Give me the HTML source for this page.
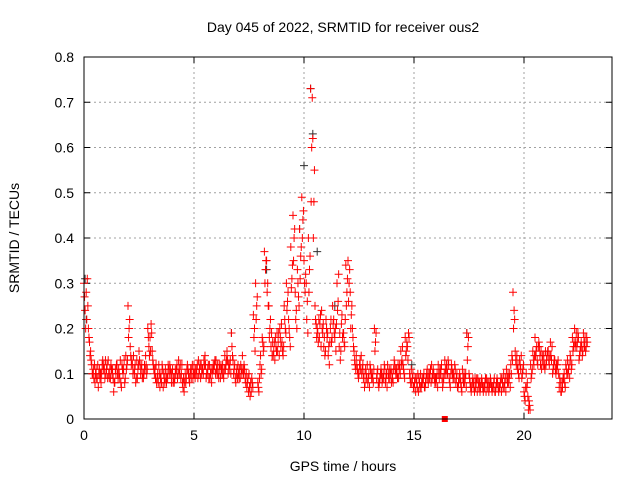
<!DOCTYPE html>
<html><head><meta charset="utf-8"><style>
body{margin:0;background:#fff}
svg{display:block;font-family:"Liberation Sans",sans-serif}
</style></head><body>
<svg id="chart" width="640" height="480" xmlns="http://www.w3.org/2000/svg">
<rect width="640" height="480" fill="#fff"/>
<text x="343" y="32" font-size="14" text-anchor="middle">Day 045 of 2022, SRMTID for receiver ous2</text>
<text x="343" y="471" font-size="14" text-anchor="middle">GPS time / hours</text>
<text transform="translate(19,238) rotate(-90)" font-size="14" text-anchor="middle">SRMTID / TECUs</text>
<g id="grid"></g><g id="ticks"></g><g id="marks"></g>
<rect x="84" y="57" width="528" height="362" fill="none" stroke="#000" stroke-width="1"/>
</svg>
<script>
const xTicks=[0,5,10,15,20];
const yTicks=[0,0.1,0.2,0.3,0.4,0.5,0.6,0.7,0.8];
const yTickLabels=["0","0.1","0.2","0.3","0.4","0.5","0.6","0.7","0.8"];
const timeStep=0.1;
const seriesA=[.30,.28,.20,.15,.10,.08,.09,.11,.10,.12,
.10,.13,.09,.11,.08,.12,.10,.07,.11,.14,
.25,.16,.12,.10,.13,.15,.11,.09,.14,.20,
.18,.15,.10,.08,.12,.10,.07,.11,.09,.12,
.10,.08,.11,.13,.09,.07,.10,.12,.08,.11,
.12,.10,.13,.09,.11,.14,.10,.12,.08,.11,
.13,.10,.09,.12,.14,.15,.11,.19,.10,.08,
.12,.09,.14,.11,.07,.10,.06,.23,.30,.08,
.12,.18,.37,.35,.25,.16,.14,.18,.15,.20,
.17,.25,.30,.22,.38,.45,.28,.33,.42,.49,
.35,.30,.40,.73,.62,.25,.20,.18,.24,.16,
.22,.14,.20,.25,.18,.30,.16,.21,.19,.34,
.35,.28,.20,.13,.12,.10,.14,.09,.11,.08,
.12,.10,.20,.09,.07,.11,.10,.08,.12,.09,
.10,.13,.11,.09,.15,.12,.18,.16,.10,.08,
.07,.09,.06,.10,.08,.07,.11,.09,.12,.10,
.08,.12,.10,.07,.13,.11,.09,.12,.10,.08,
.07,.09,.11,.08,.19,.10,.06,.08,.07,.09,
.06,.08,.07,.09,.06,.08,.07,.06,.08,.07,
.09,.07,.11,.08,.12,.28,.15,.11,.13,.09,
.06,.10,.02,.12,.15,.18,.13,.16,.11,.14,
.12,.15,.17,.10,.13,.11,.07,.06,.09,.12,
.10,.14,.18,.20,.16,.13,.17,.19,.15];
const seriesB=[.24,.31,.17,.12,.09,.11,.07,.10,.13,.09,
.12,.09,.11,.06,.10,.09,.13,.11,.08,.12,
.20,.12,.14,.08,.11,.12,.09,.12,.10,.16,
.21,.12,.09,.10,.07,.12,.09,.08,.11,.10,
.08,.11,.09,.10,.12,.06,.09,.10,.11,.09,
.09,.12,.11,.10,.13,.09,.12,.10,.11,.13,
.10,.12,.11,.09,.12,.10,.13,.14,.12,.11,
.09,.11,.10,.08,.09,.05,.08,.20,.25,.06,
.10,.15,.33,.30,.20,.14,.17,.15,.19,.16,
.14,.20,.26,.18,.31,.40,.24,.27,.36,.44,
.28,.26,.33,.60,.48,.21,.17,.23,.19,.14,
.18,.12,.17,.22,.15,.26,.13,.18,.16,.28,
.30,.23,.16,.11,.10,.13,.11,.07,.09,.10,
.10,.08,.17,.11,.09,.08,.12,.10,.09,.11,
.08,.11,.09,.12,.13,.10,.15,.19,.08,.10,
.09,.07,.08,.08,.10,.09,.08,.11,.10,.08,
.10,.09,.12,.09,.10,.13,.07,.10,.12,.10,
.09,.07,.08,.10,.16,.08,.08,.06,.09,.07,
.08,.06,.09,.07,.08,.06,.09,.08,.06,.09,
.07,.09,.08,.10,.14,.24,.12,.10,.11,.11,
.04,.08,.03,.10,.12,.15,.16,.12,.14,.11,
.14,.12,.13,.12,.10,.13,.08,.07,.08,.10,
.12,.11,.16,.17,.19,.15,.14,.16,.18];
const seriesC=[.27,.22,.18,.13,.11,.10,.12,.09,.12,.11,
.11,.10,.12,.09,.11,.10,.09,.12,.13,.11,
.18,.14,.10,.12,.09,.13,.12,.10,.12,.18,
.15,.13,.11,.09,.10,.08,.10,.09,.12,.11,
.11,.09,.12,.11,.10,.09,.08,.11,.10,.12,
.10,.11,.10,.12,.10,.12,.11,.09,.10,.12,
.11,.09,.12,.10,.11,.13,.12,.16,.11,.10,
.10,.12,.11,.09,.08,.07,.09,.18,.22,.07,
.14,.17,.30,.28,.18,.19,.15,.16,.17,.18,
.15,.22,.24,.20,.29,.35,.22,.30,.31,.40,
.30,.22,.28,.48,.40,.22,.19,.21,.20,.18,
.20,.16,.22,.21,.20,.24,.19,.23,.17,.25,
.26,.20,.18,.12,.11,.12,.10,.10,.10,.09,
.11,.09,.15,.10,.08,.10,.09,.09,.10,.10,
.09,.12,.10,.11,.12,.11,.14,.13,.09,.09,
.08,.08,.09,.07,.09,.08,.09,.10,.09,.09,
.09,.10,.11,.08,.11,.10,.08,.11,.09,.09,
.08,.08,.09,.09,.13,.09,.07,.07,.08,.08,
.07,.07,.08,.08,.07,.07,.08,.07,.07,.08,
.08,.08,.09,.09,.10,.20,.13,.12,.12,.10,
.05,.07,.04,.09,.13,.14,.12,.14,.13,.12,
.13,.13,.14,.11,.11,.12,.09,.08,.10,.11,
.11,.13,.15,.16,.17,.14,.16,.17,.16];
const seriesD=[.20,.25,.14,.10,.12,.09,.10,.08,.11,.13,
.09,.11,.10,.08,.12,.11,.08,.10,.09,.13,
.22,.13,.11,.09,.12,.10,.10,.11,.11,.14,
.19,.11,.12,.08,.09,.11,.08,.10,.10,.08,
.09,.10,.10,.12,.08,.08,.11,.09,.09,.10,
.11,.09,.12,.11,.12,.10,.09,.11,.12,.10,
.12,.11,.10,.11,.13,.12,.10,.13,.09,.09,
.11,.10,.12,.10,.06,.08,.07,.15,.27,.09,
.11,.16,.35,.25,.22,.17,.13,.19,.14,.21,
.16,.19,.28,.16,.34,.42,.20,.25,.38,.46,
.32,.19,.36,.71,.55,.18,.22,.16,.21,.15,
.19,.17,.18,.19,.21,.32,.15,.19,.22,.31,
.33,.25,.15,.14,.09,.11,.12,.08,.12,.07,
.09,.11,.19,.08,.10,.09,.11,.07,.11,.08,
.11,.10,.12,.10,.16,.09,.17,.18,.11,.07,
.06,.10,.07,.09,.07,.10,.10,.08,.11,.09,
.07,.11,.09,.10,.12,.12,.10,.09,.11,.07,
.10,.06,.10,.07,.18,.07,.09,.09,.06,.08,
.09,.07,.06,.08,.09,.07,.06,.09,.07,.06,
.10,.06,.10,.07,.13,.22,.14,.09,.14,.12,
.07,.05,.02,.11,.14,.16,.17,.15,.12,.15,
.15,.14,.16,.13,.12,.10,.06,.09,.07,.13,
.09,.12,.17,.19,.18,.16,.15,.18,.17];
const blackT=[0.05,0.1,9.8,10.0,10.3,10.4,10.6,8.3,11.4,14.9,17.4,6.7];
const blackV=[0.31,0.22,0.42,0.56,0.73,0.63,0.37,0.33,0.25,0.12,0.19,0.19];
const squareT=[16.4];const squareV=[0];

const X0=84,X1=612,Y0=419,Y1=57;
const xs=t=>X0+t*(X1-X0)/24;
const ys=v=>Y0-v*(Y0-Y1)/0.8;
const NS="http://www.w3.org/2000/svg";
function mk(tag,parent,attrs){const e=document.createElementNS(NS,tag);for(const k in attrs)e.setAttribute(k,attrs[k]);parent.appendChild(e);return e;}
const grid=document.getElementById('grid'),ticks=document.getElementById('ticks'),marks=document.getElementById('marks');
xTicks.forEach(t=>{const x=xs(t);
 if(t>0){const g=mk('line',grid,{x1:x,x2:x,y1:Y1,y2:Y0,stroke:'#a0a0a0','stroke-dasharray':'2,3'});
 
 }
 mk('line',ticks,{x1:x,x2:x,y1:Y0,y2:Y0-6,stroke:'#000'});
 mk('line',ticks,{x1:x,x2:x,y1:Y1,y2:Y1+6,stroke:'#000'});
 const l=mk('text',ticks,{x:x,y:Y0+21,'font-size':14,'text-anchor':'middle'});l.textContent=t;
 
 
});
yTicks.forEach((v,i)=>{const y=ys(v);
 if(v>0&&v<0.8){const g=mk('line',grid,{x1:X0,x2:X1,y1:y,y2:y,stroke:'#a0a0a0','stroke-dasharray':'2,3'});
 
 }
 mk('line',ticks,{x1:X0,x2:X0+6,y1:y,y2:y,stroke:'#000'});
 mk('line',ticks,{x1:X1,x2:X1-6,y1:y,y2:y,stroke:'#000'});
 const l=mk('text',ticks,{x:X0-10,y:y+5,'font-size':14,'text-anchor':'end'});l.textContent=yTickLabels[i];
 
 
});
function plus(x,y,c,name){const p=mk('path',marks,{d:`M${x-4},${y}h8M${x},${y-4}v8`,stroke:c,'stroke-width':1,fill:'none'});
 
 }
blackT.forEach((t,i)=>plus(xs(t),ys(blackV[i]),'#303030','srmtid-point-dark'));
seriesA.forEach((v,i)=>plus(xs(i*timeStep),ys(v),'#ff0000','srmtid-point'));
seriesC.forEach((v,i)=>plus(xs(i*timeStep+timeStep/4),ys(v),'#ff0000','srmtid-point'));
seriesB.forEach((v,i)=>plus(xs(i*timeStep+timeStep/2),ys(v),'#ff0000','srmtid-point'));
seriesD.forEach((v,i)=>plus(xs(i*timeStep+3*timeStep/4),ys(v),'#ff0000','srmtid-point'));
squareT.forEach((t,i)=>{const r=mk('rect',marks,{x:xs(t)-3,y:ys(squareV[i])-3,width:6,height:6,fill:'#ff0000'});
 
 });
</script>
</body></html>
